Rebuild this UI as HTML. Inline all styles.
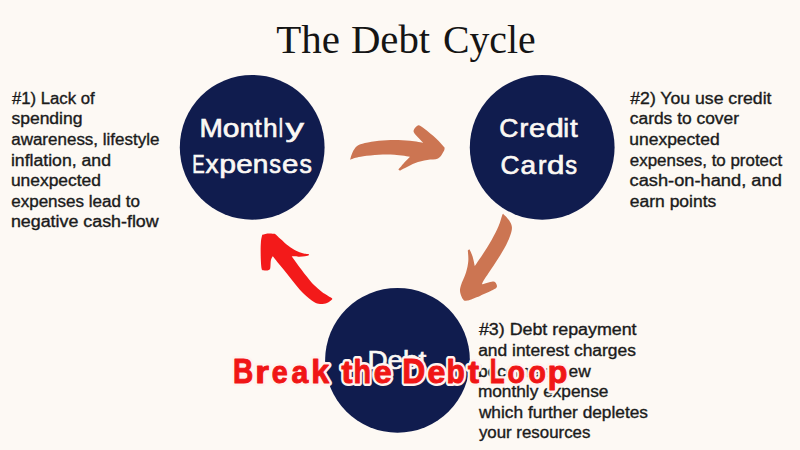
<!DOCTYPE html>
<html>
<head>
<meta charset="utf-8">
<title>The Debt Cycle</title>
<style>
html,body{margin:0;padding:0;}
body{width:800px;height:450px;overflow:hidden;background:#fdf9f4;position:relative;font-family:"Liberation Sans",sans-serif;}
svg{position:absolute;left:0;top:0;display:block;}
text{font-family:"Liberation Sans",sans-serif;}
.n{font-size:15.6px;fill:#1b1b1b;stroke:#1b1b1b;stroke-width:0.35px;}
.c{font-size:26.2px;fill:#fbf8f4;stroke:#fbf8f4;stroke-width:0.65px;}
.t{font-family:"Liberation Serif",serif;font-size:41px;fill:#151515;}
.o{font-family:"Liberation Sans",sans-serif;font-weight:bold;font-size:34.5px;fill:#f01616;stroke:#f01616;stroke-width:1.0px;stroke-linejoin:round;}
.os{font-family:"Liberation Sans",sans-serif;font-weight:bold;font-size:34.5px;fill:#fff3ef;stroke:#fff3ef;stroke-width:5.8px;stroke-linejoin:round;}
</style>
</head>
<body>
<svg width="800" height="450" viewBox="0 0 800 450">
<rect x="0" y="0" width="800" height="450" fill="#fdf9f4"/>
<circle cx="252.2" cy="147.3" r="72.4" fill="#101c4e"/>
<circle cx="542.2" cy="147.3" r="72.4" fill="#101c4e"/>
<circle cx="397.5" cy="360.3" r="72.4" fill="#101c4e"/>
<path fill="#cc7552" d="M350.1 159.8 C350.1 159.8 351.3 154.7 352.5 152.4 C353.7 150.1 355.0 147.7 357.1 146.1 C359.2 144.5 361.3 143.9 364.9 143.0 C368.5 142.1 374.0 141.2 378.9 140.7 C383.8 140.2 389.3 139.9 394.5 139.9 C399.7 139.9 405.2 140.2 410.0 140.7 C414.8 141.2 423.3 142.7 423.3 142.7 C423.3 142.7 416.3 135.8 414.7 133.7 C413.1 131.5 413.5 131.1 413.9 129.8 C414.3 128.5 415.8 126.5 417.0 125.9 C418.2 125.3 418.2 124.5 420.9 126.2 C423.6 127.9 429.8 132.8 433.4 136.0 C437.0 139.2 440.8 143.3 442.7 145.4 C444.6 147.5 444.6 147.2 444.6 148.5 C444.6 149.8 443.8 151.4 442.7 153.1 C441.6 154.8 440.6 157.4 438.0 158.6 C435.4 159.8 431.1 159.3 427.2 160.1 C423.3 160.9 419.2 161.4 414.7 163.2 C410.1 165.0 399.9 170.7 399.9 170.7 C399.9 170.7 398.4 169.5 398.4 169.5 C398.4 169.5 401.9 165.3 403.8 163.2 C405.7 161.1 410.0 156.7 410.0 156.7 C410.0 156.7 399.7 155.0 394.5 154.7 C389.3 154.4 384.1 154.4 378.9 154.7 C373.7 154.9 367.2 155.7 363.3 156.2 C359.4 156.7 357.8 157.2 355.6 157.8 C353.4 158.4 350.1 159.8 350.1 159.8 Z"/>
<path fill="#cc7552" d="M503.3 213.9 C503.3 213.9 507.7 218.0 509.1 220.2 C510.5 222.4 511.7 224.6 511.9 227.1 C512.1 229.6 511.5 231.8 510.3 235.3 C509.1 238.8 507.0 243.4 504.5 248.1 C502.0 252.8 498.6 257.9 495.1 263.3 C491.6 268.8 485.6 277.3 483.5 280.8 C481.4 284.3 482.3 284.3 482.3 284.3 C482.3 284.3 490.6 281.7 492.8 281.5 C495.1 281.3 495.1 282.2 495.8 283.1 C496.5 284.0 497.3 285.9 496.8 287.1 C496.3 288.3 495.6 288.6 492.8 290.1 C490.0 291.6 484.3 294.1 480.0 295.9 C475.7 297.6 469.9 300.0 467.1 300.6 C464.3 301.2 464.4 300.8 463.2 299.4 C462.0 298.0 460.6 294.7 460.2 292.4 C459.8 290.1 459.9 288.7 460.9 285.4 C461.9 282.1 464.8 276.7 466.0 272.6 C467.2 268.5 468.0 264.7 468.3 261.0 C468.6 257.3 467.8 250.5 467.8 250.5 C467.8 250.5 469.5 249.3 469.5 249.3 C469.5 249.3 471.6 253.5 472.5 256.3 C473.4 259.1 474.8 266.1 474.8 266.1 C474.8 266.1 479.5 259.4 482.3 255.1 C485.1 250.8 488.9 244.8 491.6 240.0 C494.3 235.2 496.9 230.1 498.6 226.0 C500.4 221.9 501.3 217.5 502.1 215.5 C502.9 213.5 503.3 213.9 503.3 213.9 Z"/>
<path fill="#f31a1a" d="M262.2 234.9 C262.2 234.9 266.1 233.8 268.3 233.6 C270.5 233.4 275.2 234.0 275.2 234.0 C275.2 234.0 278.4 237.1 280.6 239.1 C282.8 241.1 285.7 243.9 288.3 245.8 C290.9 247.8 293.7 249.6 296.1 250.8 C298.5 252.1 300.7 252.7 302.8 253.3 C304.9 253.9 308.9 254.2 308.9 254.2 C308.9 254.2 309.0 255.2 309.0 255.2 C309.0 255.2 306.6 255.9 305.0 256.2 C303.4 256.4 301.6 256.7 299.4 256.7 C297.2 256.7 291.7 256.3 291.7 256.3 C291.7 256.3 296.8 263.5 299.4 266.9 C302.0 270.3 304.8 273.9 307.2 276.9 C309.6 279.9 311.5 282.5 314.0 285.0 C316.5 287.5 319.1 289.8 322.0 292.0 C324.9 294.2 331.6 298.0 331.6 298.0 C331.6 298.0 332.8 298.8 332.0 299.6 C331.2 300.4 329.0 302.3 327.0 303.0 C325.0 303.7 322.2 304.2 320.0 304.0 C317.8 303.8 316.7 303.7 314.0 302.0 C311.3 300.3 307.1 296.9 304.0 294.0 C300.9 291.1 298.3 287.8 295.5 284.5 C292.7 281.2 289.9 277.3 287.2 274.0 C284.5 270.7 281.8 267.4 279.4 264.5 C277.0 261.6 272.8 256.3 272.8 256.3 C272.8 256.3 271.3 258.4 270.9 260.2 C270.5 262.0 270.6 265.4 270.4 267.0 C270.2 268.6 270.1 269.0 269.6 269.6 C269.1 270.2 268.5 270.3 267.5 270.4 C266.5 270.5 264.5 270.5 263.5 270.2 C262.5 269.9 262.1 270.9 261.6 268.5 C261.1 266.1 260.8 260.2 260.7 255.8 C260.6 251.5 260.6 245.9 260.9 242.4 C261.1 238.9 262.2 234.9 262.2 234.9 Z"/>
<text x="11.9" y="103.8" textLength="82.8" lengthAdjust="spacingAndGlyphs" class="n">#1) Lack of</text>
<text x="11.4" y="124.3" textLength="71.1" lengthAdjust="spacingAndGlyphs" class="n">spending</text>
<text x="11.2" y="144.9" textLength="148.3" lengthAdjust="spacingAndGlyphs" class="n">awareness, lifestyle</text>
<text x="10.9" y="165.5" textLength="100.1" lengthAdjust="spacingAndGlyphs" class="n">inflation, and</text>
<text x="10.9" y="186.1" textLength="90.1" lengthAdjust="spacingAndGlyphs" class="n">unexpected</text>
<text x="11.2" y="206.6" textLength="128.8" lengthAdjust="spacingAndGlyphs" class="n">expenses lead to</text>
<text x="10.9" y="227.2" textLength="147.8" lengthAdjust="spacingAndGlyphs" class="n">negative cash-flow</text>
<text x="630.3" y="103.8" textLength="141.2" lengthAdjust="spacingAndGlyphs" class="n">#2) You use credit</text>
<text x="629.8" y="124.3" textLength="109.2" lengthAdjust="spacingAndGlyphs" class="n">cards to cover</text>
<text x="629.3" y="144.9" textLength="90.3" lengthAdjust="spacingAndGlyphs" class="n">unexpected</text>
<text x="629.8" y="165.5" textLength="152.4" lengthAdjust="spacingAndGlyphs" class="n">expenses, to protect</text>
<text x="629.5" y="186.1" textLength="152.3" lengthAdjust="spacingAndGlyphs" class="n">cash-on-hand, and</text>
<text x="629.8" y="206.6" textLength="86.5" lengthAdjust="spacingAndGlyphs" class="n">earn points</text>
<text x="478.9" y="335.3" textLength="157.7" lengthAdjust="spacingAndGlyphs" class="n">#3) Debt repayment</text>
<text x="478.2" y="355.9" textLength="157.7" lengthAdjust="spacingAndGlyphs" class="n">and interest charges</text>
<text x="477.9" y="376.5" textLength="112.8" lengthAdjust="spacingAndGlyphs" class="n">become a new</text>
<text x="477.9" y="397.0" textLength="130.5" lengthAdjust="spacingAndGlyphs" class="n">monthly expense</text>
<text x="478.9" y="417.6" textLength="169.1" lengthAdjust="spacingAndGlyphs" class="n">which further depletes</text>
<text x="478.9" y="438.2" textLength="111.5" lengthAdjust="spacingAndGlyphs" class="n">your resources</text>
<text x="367.4" y="369.2" textLength="59.0" lengthAdjust="spacingAndGlyphs" class="c">Debt</text>
<text x="199.4" y="136.8" textLength="23.4" lengthAdjust="spacingAndGlyphs" class="c">M</text>
<text x="222.7" y="136.8" textLength="16.7" lengthAdjust="spacingAndGlyphs" class="c">o</text>
<text x="239.8" y="136.8" textLength="14.4" lengthAdjust="spacingAndGlyphs" class="c">n</text>
<text x="254.6" y="136.8" textLength="7.2" lengthAdjust="spacingAndGlyphs" class="c">t</text>
<text x="262.9" y="136.8" textLength="14.6" lengthAdjust="spacingAndGlyphs" class="c">h</text>
<text x="278.8" y="136.8" textLength="4.2" lengthAdjust="spacingAndGlyphs" class="c">l</text>
<text x="285.5" y="136.8" textLength="18.4" lengthAdjust="spacingAndGlyphs" class="c">y</text>
<text x="192.3" y="173.2" textLength="12.4" lengthAdjust="spacingAndGlyphs" class="c">E</text>
<text x="205.5" y="173.2" textLength="13.0" lengthAdjust="spacingAndGlyphs" class="c">x</text>
<text x="219.2" y="173.2" textLength="16.8" lengthAdjust="spacingAndGlyphs" class="c">p</text>
<text x="236.2" y="173.2" textLength="16.5" lengthAdjust="spacingAndGlyphs" class="c">e</text>
<text x="252.8" y="173.2" textLength="15.6" lengthAdjust="spacingAndGlyphs" class="c">n</text>
<text x="269.2" y="173.2" textLength="11.7" lengthAdjust="spacingAndGlyphs" class="c">s</text>
<text x="282.0" y="173.2" textLength="16.4" lengthAdjust="spacingAndGlyphs" class="c">e</text>
<text x="299.6" y="173.2" textLength="12.4" lengthAdjust="spacingAndGlyphs" class="c">s</text>
<text x="499.3" y="137.4" textLength="19.1" lengthAdjust="spacingAndGlyphs" class="c">C</text>
<text x="519.6" y="137.4" textLength="8.8" lengthAdjust="spacingAndGlyphs" class="c">r</text>
<text x="529.1" y="137.4" textLength="16.3" lengthAdjust="spacingAndGlyphs" class="c">e</text>
<text x="546.0" y="137.4" textLength="17.9" lengthAdjust="spacingAndGlyphs" class="c">d</text>
<text x="563.3" y="137.4" textLength="5.8" lengthAdjust="spacingAndGlyphs" class="c">i</text>
<text x="570.0" y="137.4" textLength="7.7" lengthAdjust="spacingAndGlyphs" class="c">t</text>
<text x="500.4" y="173.5" textLength="19.0" lengthAdjust="spacingAndGlyphs" class="c">C</text>
<text x="520.4" y="173.5" textLength="15.6" lengthAdjust="spacingAndGlyphs" class="c">a</text>
<text x="538.1" y="173.5" textLength="8.5" lengthAdjust="spacingAndGlyphs" class="c">r</text>
<text x="547.0" y="173.5" textLength="17.5" lengthAdjust="spacingAndGlyphs" class="c">d</text>
<text x="565.2" y="173.5" textLength="11.8" lengthAdjust="spacingAndGlyphs" class="c">s</text>
<text x="276.2" y="52.8" textLength="63.7" lengthAdjust="spacingAndGlyphs" class="t">The</text>
<text x="350.9" y="52.8" textLength="79.3" lengthAdjust="spacingAndGlyphs" class="t">Debt</text>
<text x="442.9" y="52.8" textLength="92.7" lengthAdjust="spacingAndGlyphs" class="t">Cycle</text>
<text x="233.09" y="383.3" textLength="20.25" lengthAdjust="spacingAndGlyphs" class="os" style="font-size:35.1px">B</text>
<text x="255.29" y="383.3" textLength="13.71" lengthAdjust="spacingAndGlyphs" class="os" style="font-size:31.7px">r</text>
<text x="271.65" y="383.3" textLength="15.93" lengthAdjust="spacingAndGlyphs" class="os" style="font-size:31.7px">e</text>
<text x="291.51" y="383.3" textLength="16.75" lengthAdjust="spacingAndGlyphs" class="os" style="font-size:31.7px">a</text>
<text x="311.37" y="383.3" textLength="17.89" lengthAdjust="spacingAndGlyphs" class="os" style="font-size:33.7px">k</text>
<text x="341.50" y="383.3" textLength="11.00" lengthAdjust="spacingAndGlyphs" class="os" style="font-size:31.8px">t</text>
<text x="353.49" y="383.3" textLength="17.46" lengthAdjust="spacingAndGlyphs" class="os" style="font-size:33.7px">h</text>
<text x="373.69" y="383.3" textLength="17.85" lengthAdjust="spacingAndGlyphs" class="os" style="font-size:31.7px">e</text>
<text x="402.32" y="383.3" textLength="23.03" lengthAdjust="spacingAndGlyphs" class="os" style="font-size:35.1px">D</text>
<text x="427.48" y="383.3" textLength="17.85" lengthAdjust="spacingAndGlyphs" class="os" style="font-size:31.7px">e</text>
<text x="446.57" y="383.3" textLength="18.29" lengthAdjust="spacingAndGlyphs" class="os" style="font-size:33.7px">b</text>
<text x="468.00" y="383.3" textLength="11.00" lengthAdjust="spacingAndGlyphs" class="os" style="font-size:31.8px">t</text>
<text x="489.85" y="383.3" textLength="14.76" lengthAdjust="spacingAndGlyphs" class="os" style="font-size:35.1px">L</text>
<text x="507.45" y="383.3" textLength="17.34" lengthAdjust="spacingAndGlyphs" class="os" style="font-size:31.7px">o</text>
<text x="528.45" y="383.3" textLength="17.34" lengthAdjust="spacingAndGlyphs" class="os" style="font-size:31.7px">o</text>
<text x="547.77" y="383.3" textLength="19.60" lengthAdjust="spacingAndGlyphs" class="os" style="font-size:31.7px">p</text>
<text x="233.09" y="383.3" textLength="20.25" lengthAdjust="spacingAndGlyphs" class="o" style="font-size:35.1px">B</text>
<text x="255.29" y="383.3" textLength="13.71" lengthAdjust="spacingAndGlyphs" class="o" style="font-size:31.7px">r</text>
<text x="271.65" y="383.3" textLength="15.93" lengthAdjust="spacingAndGlyphs" class="o" style="font-size:31.7px">e</text>
<text x="291.51" y="383.3" textLength="16.75" lengthAdjust="spacingAndGlyphs" class="o" style="font-size:31.7px">a</text>
<text x="311.37" y="383.3" textLength="17.89" lengthAdjust="spacingAndGlyphs" class="o" style="font-size:33.7px">k</text>
<text x="341.50" y="383.3" textLength="11.00" lengthAdjust="spacingAndGlyphs" class="o" style="font-size:31.8px">t</text>
<text x="353.49" y="383.3" textLength="17.46" lengthAdjust="spacingAndGlyphs" class="o" style="font-size:33.7px">h</text>
<text x="373.69" y="383.3" textLength="17.85" lengthAdjust="spacingAndGlyphs" class="o" style="font-size:31.7px">e</text>
<text x="402.32" y="383.3" textLength="23.03" lengthAdjust="spacingAndGlyphs" class="o" style="font-size:35.1px">D</text>
<text x="427.48" y="383.3" textLength="17.85" lengthAdjust="spacingAndGlyphs" class="o" style="font-size:31.7px">e</text>
<text x="446.57" y="383.3" textLength="18.29" lengthAdjust="spacingAndGlyphs" class="o" style="font-size:33.7px">b</text>
<text x="468.00" y="383.3" textLength="11.00" lengthAdjust="spacingAndGlyphs" class="o" style="font-size:31.8px">t</text>
<text x="489.85" y="383.3" textLength="14.76" lengthAdjust="spacingAndGlyphs" class="o" style="font-size:35.1px">L</text>
<text x="507.45" y="383.3" textLength="17.34" lengthAdjust="spacingAndGlyphs" class="o" style="font-size:31.7px">o</text>
<text x="528.45" y="383.3" textLength="17.34" lengthAdjust="spacingAndGlyphs" class="o" style="font-size:31.7px">o</text>
<text x="547.77" y="383.3" textLength="19.60" lengthAdjust="spacingAndGlyphs" class="o" style="font-size:31.7px">p</text>
</svg>
</body>
</html>
